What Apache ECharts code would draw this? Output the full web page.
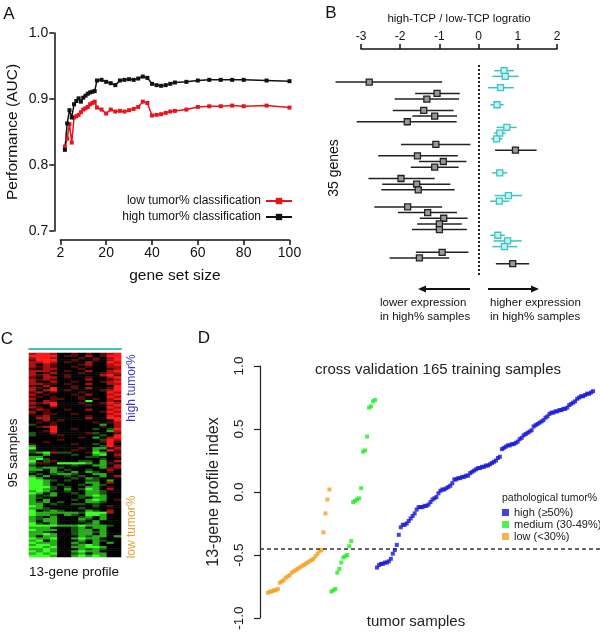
<!DOCTYPE html>
<html><head><meta charset="utf-8">
<script src="https://cdn.jsdelivr.net/npm/echarts@6/dist/echarts.min.js"></script>
<style>html,body{margin:0;padding:0;background:#fff}#c{width:600px;height:634px}</style>
</head><body><div id="c"></div>
<script>
// ---------- Panel A ----------
const geneSizes = [2,3,4,5,6,7,8,9,10,11,12,13,14,15,16,18,20,22,24,26,28,30,32,34,36,38,40,42,44,46,48,50,55,60,65,70,75,80,90,100];
const aucHigh = [0.823,0.863,0.883,0.872,0.892,0.897,0.901,0.896,0.902,0.905,0.908,0.910,0.911,0.912,0.928,0.929,0.926,0.924,0.921,0.928,0.929,0.930,0.929,0.931,0.934,0.932,0.923,0.921,0.920,0.921,0.923,0.925,0.926,0.928,0.929,0.929,0.929,0.929,0.928,0.927];
const aucLow = [0.828,0.840,0.862,0.834,0.872,0.874,0.876,0.880,0.884,0.886,0.888,0.892,0.894,0.896,0.887,0.884,0.878,0.884,0.881,0.882,0.881,0.883,0.885,0.888,0.896,0.894,0.875,0.876,0.877,0.879,0.881,0.882,0.884,0.888,0.889,0.889,0.890,0.889,0.890,0.887];
const aTickLabels = ['2','20','40','60','80','100'];

// ---------- Panel B ----------
const bEst = [0.65,0.68,-2.79,0.56,-1.06,-1.32,0.47,-1.40,-1.12,-1.82,0.72,0.54,0.46,-1.09,0.94,-1.56,-0.90,-1.12,0.54,-1.98,-1.58,-1.54,0.76,0.53,-1.81,-1.30,-0.89,-1.00,-1.00,0.49,0.74,0.66,-0.93,-1.51,0.87];
const bLo = [0.40,0.35,-3.65,0.24,-1.62,-2.14,0.30,-2.19,-1.69,-3.11,0.46,0.39,0.32,-1.98,0.42,-2.56,-1.52,-1.73,0.34,-2.81,-2.46,-2.48,0.41,0.29,-2.66,-2.06,-1.50,-1.57,-1.70,0.30,0.38,0.35,-1.60,-2.27,0.44];
const bHi = [0.90,1.02,-0.93,0.90,-0.48,-0.50,0.64,-0.64,-0.55,-0.56,0.97,0.69,0.61,-0.21,1.48,-0.53,-0.31,-0.51,0.73,-1.12,-0.72,-0.61,1.11,0.78,-0.93,-0.55,-0.28,-0.43,-0.30,0.67,1.10,0.99,-0.26,-0.75,1.29];
const bGroup = ['c','c','k','c','k','k','c','k','k','k','c','c','c','k','k','k','k','k','c','k','k','k','c','c','k','k','k','k','k','c','c','c','k','k','k'];

// ---------- Panel C (13 genes x 95 samples; R/r/d red levels, . black, h/g/G green levels) ----------
const heatRows = [
"rRRr..d.d.drR","RRRR.dd.r.dRR","rRRr...d.d.rR","dRRR..d..d.rR","rrRr.d..r..Rr","r.rd...dr..rR",
"rdrd..d.d..rr","d.rr...d...dr","rrrd.d..r..rR","r.dr...d..drr","rdr..d....rRd","d.rr.d..d..rR",
"rdrd....r..dr","r..r..d...drR","rrdd.d..r..rr","d.r...d.....R","rd.R..d.r..dR","r.rR.d....drR",
"dr.d...d...Rr","r.d...d.r..rR","dd.d...d...Rr","r..dd..d.d.rR","d.rd....G..rd","rdrR...d..dRr",
"d..R....d..rR","rd.d.......Rr",".rd..d..r..rR","r.d.......dRr","d.dd..d....rR",".dr.....d..Rr",
".rr.....r..RR","..r.d.......R",".d.d.....d.dr","h..d......g.r",".drR......d.r","...R..d..h.hR",
"..dR.......gr","h..r....dh..d","h...d.....h.R",".......d.g.rR","....d.....hRr","..d.......dRd",
"d.....d..h.R.","g.........hRd","G......d.gg.r","h.....d..g.Rd","hgGrhh..dGg.d","..g...h..gG.r",
"gg......hh..d","gGh.......h..","G.hd...hh.g.r","gdd.GGGGg.gd.","h.....h..gg.r","ghggh.....gdr",
"gg.g.h..h..r.","h..gh.g.gh.d.",".h.hggh..gg..","g.g..h.h..g.r","Gg....h.gh...","GGgh.h..hh.g.",
"GGg.....gg.r.","GGg.h..h.gh..","GGGh.h..gg.d.","GGgh.g.hGg.r.","gGg..h..ggh..","Gg.g..h.ggh..",
"g.hg...hgGg..","gh.....h.gg..","g.g...h.gGg.d","ghg.h...ggh..","gg.h..hh.h...","Gg.......h.d.",
"ggh....h.....","G.hgh...gh.r.","GgggggghGGGr.","Gggh.gh.GGg..","gh.g...hg.g..","ghgg...gh.g..",
"g.gg...h.g...","Gh.g....hg...","GGGGgggGgggh.","ggg...hg.gg..","Gggg..hgg.g..","ggh...hgghg..",
"ggGg..hgg.g..","g.gg...ghgg.g","GggG..gGgg...","gG.g...g.gh..","Gggg..gh.g.g.","gGGg..hgGg...",
"GGgG..ggGGg..","ggGg...ghgh..","GgGg..gGgg...","gGgG..hg.gg..","GGGg..gGgGg.."
];
const heatLevels = {R:3, r:2, d:1, '.':0, h:-1, g:-2, G:-3};

// ---------- Panel D ----------
const lowScores = [-0.80,-0.79,-0.79,-0.78,-0.78,-0.77,-0.72,-0.71,-0.70,-0.68,-0.67,-0.66,-0.64,-0.63,-0.62,-0.61,-0.60,-0.59,-0.58,-0.57,-0.56,-0.55,-0.54,-0.53,-0.51,-0.49,-0.47,-0.46,-0.32,-0.17,-0.06,0.02];
const medScores = [-0.79,-0.78,-0.77,-0.64,-0.61,-0.56,-0.52,-0.51,-0.50,-0.43,-0.39,-0.08,-0.07,-0.06,-0.05,0.03,0.32,0.33,0.44,0.67,0.68,0.72,0.73];
const highScores = [-0.60,-0.58,-0.57,-0.57,-0.56,-0.56,-0.55,-0.53,-0.49,-0.46,-0.42,-0.34,-0.28,-0.26,-0.26,-0.25,-0.23,-0.21,-0.19,-0.17,
-0.14,-0.12,-0.12,-0.12,-0.11,-0.11,-0.10,-0.08,-0.06,-0.05,-0.04,-0.01,0.01,0.02,0.02,0.03,0.04,0.05,0.07,0.10,
0.10,0.11,0.11,0.12,0.12,0.13,0.13,0.15,0.16,0.17,0.18,0.19,0.19,0.20,0.20,0.21,0.21,0.22,0.23,0.24,
0.25,0.27,0.28,0.34,0.35,0.36,0.37,0.37,0.38,0.38,0.39,0.40,0.42,0.43,0.45,0.46,0.47,0.48,0.49,0.52,
0.53,0.54,0.55,0.56,0.57,0.59,0.60,0.62,0.63,0.63,0.64,0.64,0.65,0.65,0.66,0.66,0.67,0.69,0.70,0.71,
0.72,0.74,0.75,0.76,0.76,0.77,0.78,0.78,0.79,0.80];
const cutoff = -0.45;

// ---------- build ----------
const FONT = 'Liberation Sans, Arial, sans-serif';
const black = '#111';
const cyan = '#3cc4c4';

const heatData = [];
heatRows.forEach((s, r) => { for (let c = 0; c < s.length; c++) heatData.push([c, r, heatLevels[s[c]]]); });
const bData = bEst.map((e, i) => [e, i, bLo[i], bHi[i], bGroup[i] === 'c' ? 1 : 0]);
let rank = 0;
const lowData = lowScores.map(v => [++rank, v]);
const medData = medScores.map(v => [++rank, v]);
const highData = highScores.map(v => [++rank, v]);

const axLine = {show: true, onZero: false, lineStyle: {color: black, width: 1.5}};
const chart = echarts.init(document.getElementById('c'), null, {renderer: 'canvas'});
function txt(text, x, y, o) {
  o = o || {};
  return {type: 'text', x: x, y: y, rotation: o.rot || 0, z: 100,
    style: {text: text, x: 0, y: 0, align: o.align || 'center', verticalAlign: o.va || 'middle',
      fontSize: o.size || 14, fontFamily: FONT, fill: o.color || '#111', lineHeight: o.lh}};
}
chart.setOption({
  animation: false,
  textStyle: {fontFamily: FONT},
  grid: [
    {left: 60.3, width: 229.2, top: 33, height: 198},
    {left: 361, width: 196, top: 65, height: 210},
    {left: 29, width: 92, top: 353, height: 204},
    {left: 260, width: 340, top: 366, height: 252}
  ],
  xAxis: [
    {gridIndex: 0, type: 'value', min: 0, max: 100, interval: 20, offset: 9,
     axisLine: axLine, axisTick: {show: true, length: 5, lineStyle: {color: black, width: 1.5}},
     axisLabel: {color: '#111', fontSize: 14, margin: 6, formatter: (v) => aTickLabels[Math.round(v / 20)]},
     splitLine: {show: false},
     name: 'gene set size', nameLocation: 'middle', nameGap: 28, nameTextStyle: {fontSize: 15.5, color: '#111'}},
    {gridIndex: 1, type: 'value', min: -3, max: 2, interval: 1, position: 'top', offset: 16,
     axisLine: axLine, axisTick: {show: true, length: 5, lineStyle: {color: black, width: 1.5}},
     axisLabel: {color: '#111', fontSize: 12, margin: 6},
     splitLine: {show: false},
     name: 'high-TCP / low-TCP logratio', nameLocation: 'middle', nameGap: 24, nameTextStyle: {fontSize: 11.5, color: '#111'}},
    {gridIndex: 2, type: 'category', data: heatRows[0].split('').map((_, i) => 'g' + (i + 1)), position: 'top', offset: 4,
     axisLine: {show: true, onZero: false, lineStyle: {color: cyan, width: 2}}, axisTick: {show: false}, axisLabel: {show: false}},
    {gridIndex: 3, type: 'value', min: -3, max: 168.5, show: false, splitLine: {show: false}}
  ],
  yAxis: [
    {gridIndex: 0, type: 'value', min: 0.7, max: 1.0, interval: 0.1, offset: 6,
     axisLine: axLine, axisTick: {show: true, length: 5, lineStyle: {color: black, width: 1.5}},
     axisLabel: {color: '#111', fontSize: 14, margin: 6, formatter: (v) => v.toFixed(1)},
     splitLine: {show: false},
     name: 'Performance (AUC)', nameLocation: 'middle', nameGap: 34, nameRotate: 90, nameTextStyle: {fontSize: 15.5, color: '#111'}},
    {gridIndex: 1, type: 'value', min: -1, max: 36, inverse: true, show: false, splitLine: {show: false}},
    {gridIndex: 2, type: 'category', data: heatRows.map((_, i) => 's' + (i + 1)), inverse: true, show: false},
    {gridIndex: 3, type: 'value', min: -1, max: 1, interval: 0.5,
     axisLine: {show: true, onZero: false, lineStyle: {color: '#222', width: 1.2}}, axisTick: {show: true, length: 6, lineStyle: {color: '#222', width: 1.2}},
     axisLabel: {color: '#222', fontSize: 13.5, margin: 14, rotate: 90, formatter: (v) => v.toFixed(1)},
     splitLine: {show: false},
     name: '13-gene profile index', nameLocation: 'middle', nameGap: 38, nameRotate: 90, nameTextStyle: {fontSize: 16, color: '#222'}}
  ],
  visualMap: [{type: 'continuous', show: false, seriesIndex: 3, dimension: 2, min: -3, max: 3,
    inRange: {color: ['#3cff28', '#000000', '#ff1a1a']}}],
  legend: [
    {data: ['low tumor% classification', 'high tumor% classification'], orient: 'vertical', right: 307, top: 195,
     align: 'right', itemWidth: 26, itemHeight: 8, itemGap: 4, padding: 0, selectedMode: false,
     textStyle: {fontSize: 12, color: '#111'}},
    {data: ['high (\u226550%)', 'medium (30-49%)', 'low (<30%)'], orient: 'vertical', left: 502, top: 507,
     icon: 'rect', itemWidth: 7, itemHeight: 7, itemGap: 1, padding: 0, selectedMode: false,
     textStyle: {fontSize: 11, lineHeight: 11, color: '#222'}}
  ],
  series: [
    {name: 'low tumor% classification', type: 'line', xAxisIndex: 0, yAxisIndex: 0,
     data: geneSizes.map((g, i) => [g, aucLow[i]]), symbol: 'rect', symbolSize: 4, showAllSymbol: true,
     color: '#e8141b', lineStyle: {width: 1.5, color: '#e8141b'}, itemStyle: {color: '#e8141b'}},
    {name: 'high tumor% classification', type: 'line', xAxisIndex: 0, yAxisIndex: 0,
     data: geneSizes.map((g, i) => [g, aucHigh[i]]), symbol: 'rect', symbolSize: 4, showAllSymbol: true,
     color: '#111', lineStyle: {width: 1.5, color: '#111'}, itemStyle: {color: '#111'}},
    {name: 'genes', type: 'custom', xAxisIndex: 1, yAxisIndex: 1, clip: false, data: bData,
     encode: {x: 0, y: 1},
     renderItem: function (params, api) {
       const p = api.coord([api.value(0), api.value(1)]);
       const a = api.coord([api.value(2), api.value(1)]);
       const b = api.coord([api.value(3), api.value(1)]);
       const isC = api.value(4) === 1;
       const col = isC ? cyan : '#222';
       return {type: 'group', children: [
         {type: 'line', shape: {x1: a[0], y1: a[1], x2: b[0], y2: b[1]}, style: {stroke: col, lineWidth: 1.5}},
         {type: 'rect', shape: {x: p[0] - 3, y: p[1] - 3, width: 6, height: 6},
          style: {fill: isC ? '#c8f0f0' : '#999', stroke: col, lineWidth: 1.3}}
       ]};
     },
     markLine: {silent: true, symbol: 'none', label: {show: false},
       lineStyle: {color: '#222', type: [2, 2], width: 2}, data: [{xAxis: 0}]}},
    {name: 'heat', type: 'heatmap', xAxisIndex: 2, yAxisIndex: 2, data: heatData, itemStyle: {borderWidth: 0}},
    {name: 'low (<30%)', type: 'scatter', xAxisIndex: 3, yAxisIndex: 3, data: lowData, symbol: 'rect', symbolSize: 4,
     itemStyle: {color: '#f5a020'}},
    {name: 'medium (30-49%)', type: 'scatter', xAxisIndex: 3, yAxisIndex: 3, data: medData, symbol: 'rect', symbolSize: 4,
     itemStyle: {color: '#22ee22'}},
    {name: 'high (\u226550%)', type: 'scatter', xAxisIndex: 3, yAxisIndex: 3, data: highData, symbol: 'rect', symbolSize: 4,
     itemStyle: {color: '#1515d5'},
     markLine: {silent: true, symbol: 'none', label: {show: false},
       lineStyle: {color: '#333', type: [4, 3], width: 1.5}, data: [{yAxis: cutoff}]}}
  ],
  graphic: [
    txt('A', 9, 14, {size: 17}),
    txt('B', 331, 13, {size: 17}),
    txt('C', 7, 339, {size: 17}),
    txt('D', 204, 338, {size: 17}),
    txt('35 genes', 334, 168, {rot: Math.PI / 2, size: 14}),
    txt('lower expression\nin high% samples', 380, 296, {align: 'left', va: 'top', size: 11.5, lh: 14}),
    txt('higher expression\nin high% samples', 490, 296, {align: 'left', va: 'top', size: 11.5, lh: 14}),
    {type: 'line', shape: {x1: 470, y1: 289, x2: 424, y2: 289}, style: {stroke: '#111', lineWidth: 2}},
    {type: 'polygon', shape: {points: [[418, 289], [426, 285.5], [426, 292.5]]}, style: {fill: '#111'}},
    {type: 'line', shape: {x1: 488, y1: 289, x2: 533, y2: 289}, style: {stroke: '#111', lineWidth: 2}},
    {type: 'polygon', shape: {points: [[539, 289], [531, 285.5], [531, 292.5]]}, style: {fill: '#111'}},
    txt('95 samples', 13, 453, {rot: Math.PI / 2, size: 13.5}),
    txt('13-gene profile', 74, 572, {size: 13.5}),
    txt('high tumor%', 132, 388, {rot: Math.PI / 2, size: 12, color: '#3a3ac0'}),
    txt('low tumor%', 132, 527, {rot: Math.PI / 2, size: 12, color: '#eaa030'}),
    txt('cross validation 165 training samples', 438, 370, {size: 15, color: '#222'}),
    txt('tumor samples', 416, 622, {size: 15, color: '#222'}),
    txt('pathological tumor%', 502, 498, {align: 'left', size: 10.5, color: '#222'})
  ]
});
</script></body></html>
